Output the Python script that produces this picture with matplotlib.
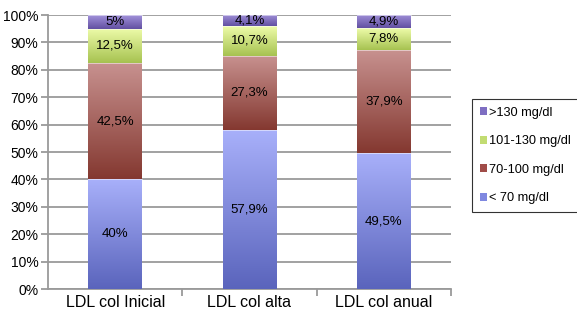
import matplotlib.pyplot as plt
import numpy as np
from matplotlib.colors import LinearSegmentedColormap
from matplotlib.patches import Patch

plt.rcParams['font.family'] = ['Liberation Sans', 'DejaVu Sans']

categories = ["LDL col Inicial", "LDL col alta", "LDL col anual"]
series_names = ["< 70 mg/dl", "70-100 mg/dl", "101-130 mg/dl", ">130 mg/dl"]
lt70 = [40.0, 57.9, 49.5]
r70_100 = [42.5, 27.3, 37.9]
r101_130 = [12.5, 10.7, 7.8]
gt130 = [5.0, 4.1, 4.9]
labels = [["40%", "57,9%", "49,5%"],
          ["42,5%", "27,3%", "37,9%"],
          ["12,5%", "10,7%", "7,8%"],
          ["5%", "4,1%", "4,9%"]]

series = [lt70, r70_100, r101_130, gt130]
# (bottom colour, top colour) for the gradient, plus legend swatch colour
grads = [("#5a64bc", "#a8b0fa"),
         ("#843830", "#c89290"),
         ("#a6c250", "#eefcaa"),
         ("#6250a2", "#a292da")]
swatch = ["#7f88e0", "#a04c48", "#c2dc72", "#7e6ec2"]

fig = plt.figure(figsize=(5.77, 3.10), dpi=100)
ax = fig.add_axes([0.0832, 0.0677, 0.6984, 0.8839])

x = np.arange(len(categories))
w = 0.4
grad = np.linspace(0, 1, 256).reshape(-1, 1)

bottoms = np.zeros(len(categories))
for s, vals in enumerate(series):
    cmap = LinearSegmentedColormap.from_list("g%d" % s, list(grads[s]))
    for i, v in enumerate(vals):
        b = bottoms[i]
        ax.imshow(grad, cmap=cmap, aspect="auto", origin="lower",
                  extent=(x[i] - w / 2, x[i] + w / 2, b, b + v), zorder=3)
        ax.plot([x[i] - w / 2, x[i] + w / 2], [b + v, b + v],
                color="white", lw=0.6, alpha=0.6, zorder=4)
        ax.text(x[i], b + v / 2, labels[s][i], ha="center", va="center",
                fontsize=9.5, color="black", zorder=5)
    bottoms += np.array(vals)

ax.set_xlim(-0.5, len(categories) - 0.5)
ax.set_ylim(0, 100)
ax.set_yticks(np.arange(0, 101, 10))
ax.set_yticklabels(["%d%%" % t for t in range(0, 101, 10)], fontsize=10)
ax.yaxis.grid(True, color="#9a9a9a", lw=1.3, zorder=0)
ax.set_axisbelow(True)

ax.set_xticks(x)
ax.set_xticklabels(categories, fontsize=11.5)
ax.tick_params(axis="x", length=0, pad=4)
ax.set_xticks([0.5, 1.5, 2.5], minor=True)
ax.tick_params(axis="x", which="minor", length=5, color="#9a9a9a", width=1.3)
ax.tick_params(axis="y", length=5, color="#9a9a9a", width=1.3, pad=2)

for side in ["top", "right"]:
    ax.spines[side].set_visible(False)
for side in ["left", "bottom"]:
    ax.spines[side].set_color("#9a9a9a")
    ax.spines[side].set_linewidth(1.3)

handles = [Patch(facecolor=swatch[k], edgecolor="none") for k in range(3, -1, -1)]
names = [series_names[k] for k in range(3, -1, -1)]
leg = fig.legend(handles, names, loc="upper left",
                 bbox_to_anchor=(472 / 577, 1 - 99 / 310),
                 fontsize=9.2, frameon=True, fancybox=False,
                 handlelength=0.6, handleheight=0.6, handletextpad=0.1,
                 labelspacing=1.3, borderpad=0.6, borderaxespad=0)
leg.get_frame().set_edgecolor("black")
leg.get_frame().set_linewidth(0.8)

fig.savefig("out.png", dpi=100)
